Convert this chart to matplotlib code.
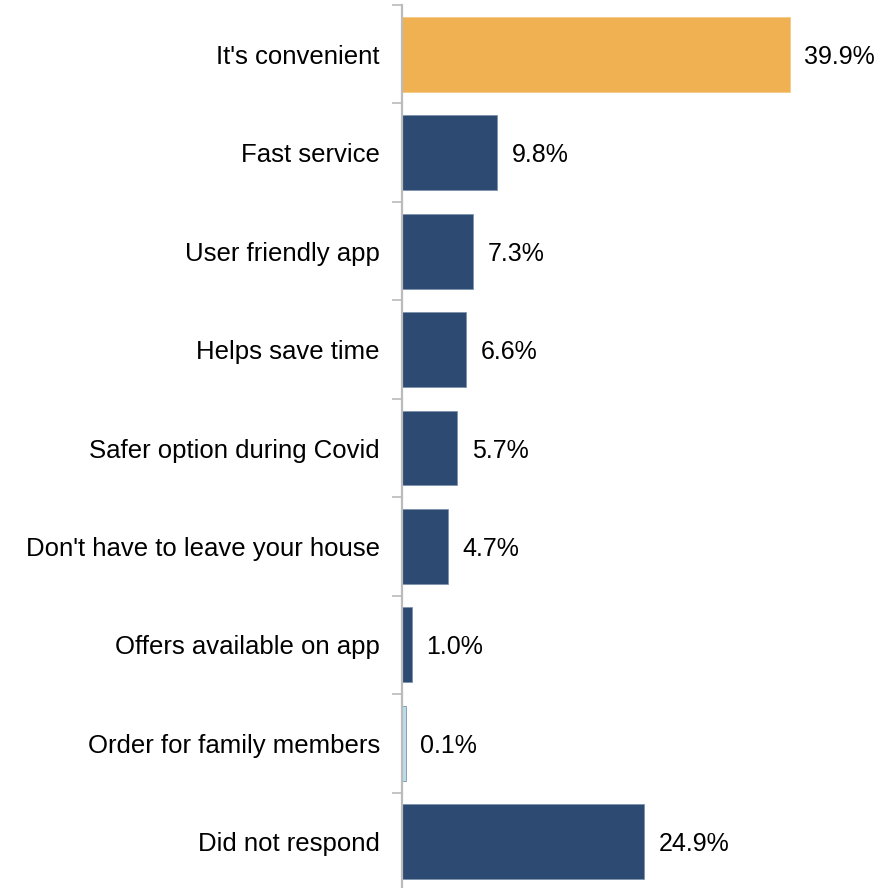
import numpy as np
import matplotlib.pyplot as plt

# Reasons for ordering through the app (share of respondents, %)
reasons = ["It's convenient", "Fast service", "User friendly app", "Helps save time",
           "Safer option during Covid", "Don't have to leave your house",
           "Offers available on app", "Order for family members", "Did not respond"]
shares = [39.9, 9.8, 7.3, 6.6, 5.7, 4.7, 1.0, 0.1, 24.9]
bar_colors = ["#EFB152", "#2D4A73", "#2D4A73", "#2D4A73", "#2D4A73",
              "#2D4A73", "#2D4A73", "#B9DDEA", "#2D4A73"]

plt.rcParams['font.family'] = ['Liberation Sans', 'DejaVu Sans']

fig = plt.figure(figsize=(8.87, 8.88), dpi=100)
ax = fig.add_axes([402 / 887, -3 / 888, 485 / 887, 886 / 888])

y = np.arange(len(reasons))
# tiny values still get a visible sliver
widths = [max(v, 0.4) for v in shares]
ax.barh(y, widths, height=0.76, color=bar_colors,
        edgecolor=["#F5CB86" if c == "#EFB152" else "#7F93AE" for c in bar_colors],
        linewidth=0.6, zorder=2)

for yi, v in zip(y, shares):
    ax.text(max(v, 0.4) + 1.5, yi, f"{v:.1f}%", va="center_baseline", ha="left", fontsize=18)

ax.set_xlim(0, 485 / 9.72)
ax.set_ylim(len(reasons) - 0.5, -0.5)

# boundary ticks between categories, labels at centers
ax.set_yticks(np.arange(-0.5, len(reasons), 1.0))
ax.set_yticklabels([])
ax.tick_params(axis="y", which="major", length=7, width=1.2, color="#BBBBBB", direction="out")
ax.set_yticks(y, minor=True)
ax.set_yticklabels(reasons, minor=True, fontsize=18.5)
ax.tick_params(axis="y", which="minor", length=0, pad=16)

ax.set_xticks([])
for side in ["top", "right", "bottom"]:
    ax.spines[side].set_visible(False)
ax.spines["left"].set_color("#BBBBBB")
ax.spines["left"].set_linewidth(1.6)
ax.spines["left"].set_zorder(3)

fig.savefig("out.png", dpi=100)
